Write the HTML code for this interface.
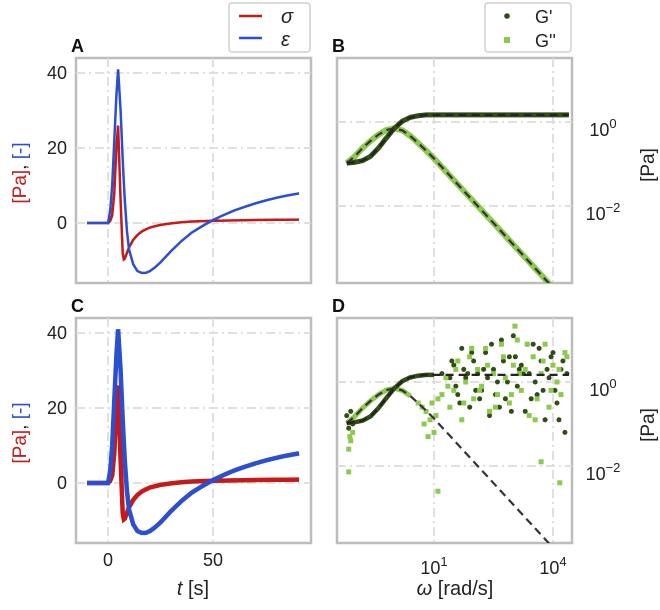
<!DOCTYPE html>
<html><head><meta charset="utf-8"><style>
body{margin:0;background:#fff}
svg{display:block;font-family:"Liberation Sans",sans-serif}
</style></head><body>
<svg id="fig" width="660" height="610" viewBox="0 0 660 610">
<defs>
<clipPath id="clipA"><rect x="76" y="58" width="235" height="225"/></clipPath>
<clipPath id="clipB"><rect x="337" y="58" width="235" height="225"/></clipPath>
<clipPath id="clipC"><rect x="76" y="318" width="235" height="225"/></clipPath>
<clipPath id="clipD"><rect x="337" y="318" width="235" height="225"/></clipPath>
</defs>
<g id="layer"></g>
</svg>
<script>
// ---- data: time panels ----
const tVals = [-10,-5,0,1,2,3,4,4.8,6,7,7.5,8,9,10,12,14,16,18,20,22,25,30,35,40,45,50,55,60,65,70,75,80,85,91];
const epsVals = [0,0,0,3,10,22,34,41,30,17,11,6,-2,-7,-11,-12.8,-13.3,-13.3,-12.8,-12,-10.5,-7.5,-4.8,-2.5,-0.8,0.8,2.1,3.3,4.3,5.2,6,6.7,7.3,7.9];
const sigVals = [0,0,0,0.5,2,8,20,26,6,-8,-9.7,-9.5,-8,-6.5,-4.5,-3.2,-2.3,-1.7,-1.2,-0.9,-0.5,-0.1,0.2,0.4,0.5,0.6,0.65,0.7,0.75,0.8,0.82,0.85,0.87,0.9];
const timeTicks = [0,50];
const timeTickLabels = ["0","50"];
const ampTicks = [0,20,40];
const ampTickLabels = ["0","20","40"];
// ---- data: frequency panels (log10 values) ----
const logW = [-1.2,-1.0,-0.8,-0.6,-0.4,-0.2,0,0.2,0.4,0.6,0.8,1.0,1.4,1.8,2.2,2.6,3.0,3.4,3.8,4.2,4.4];
const logGp = [-0.98,-0.96,-0.92,-0.82,-0.62,-0.38,-0.15,0.02,0.11,0.15,0.17,0.17,0.17,0.17,0.17,0.17,0.17,0.17,0.17,0.17,0.17];
const logGpp = [-0.98,-0.82,-0.62,-0.45,-0.3,-0.19,-0.15,-0.2,-0.33,-0.5,-0.68,-0.87,-1.28,-1.69,-2.1,-2.51,-2.92,-3.33,-3.74,-4.15,-4.35];
const freqTicks = [1,4];
const gTicks = [0,-2];
// noisy measured data in D
const dpW = [-1.2,-1.15,-1.1,-1.05,1.2,1.4,1.5,1.6,1.7,1.8,1.9,2.0,2.1,2.2,2.3,2.4,2.5,2.6,2.7,2.8,2.9,3.0,3.1,3.2,3.3,3.4,3.5,3.6,3.7,3.8,3.9,4.0,4.1,4.2,4.3,1.45,1.65,1.85,2.05,2.25,2.45,2.65,2.85,3.05,3.25,3.45,3.65,3.85,4.05,4.25,1.55,1.75,1.95,2.15,2.35,2.55,2.75,2.95,3.15,3.35,3.55,3.75,3.95,4.15,4.35];
const dpG = [-0.8,-1.1,-0.7,-1.0,0.2,0.1,0.4,-0.3,0.8,0.1,-0.6,0.5,0.2,-0.2,0.7,-0.8,0.3,0.0,1.0,-0.4,0.6,1.1,-0.1,0.4,-0.7,0.2,0.9,-0.3,0.5,-0.9,0.1,0.7,-0.5,0.3,-1.2,0.5,-0.5,0.2,-0.2,0.3,0.9,-0.6,0.0,0.6,0.2,-0.4,0.8,0.3,-0.2,0.5,-0.1,0.3,0.7,-0.4,0.1,-0.3,0.5,-0.7,0.3,0.9,0.0,-0.2,0.6,-0.9,0.2];
const lpW = [-1.15,-1.15,-1.1,-1.12,-1.05,0.6,0.7,0.8,0.9,1.0,1.1,0.75,0.85,0.95,1.05,1.2,1.3,1.4,1.5,1.6,1.7,1.8,1.9,2.0,2.1,2.2,2.3,2.4,2.5,2.6,2.7,2.8,2.9,3.0,3.1,3.2,3.3,3.4,3.5,3.6,3.7,3.8,3.9,4.0,4.1,4.2,4.3,1.35,1.55,1.75,1.95,2.15,2.35,2.55,2.75,2.95,3.15,3.35,3.55,3.75,3.95,4.15,4.35,1.1,3.04,4.17,3.7];
const lpG = [-1.6,-2.14,-1.4,-1.3,-1.2,-0.5,-0.6,-0.7,-0.9,-1.2,-0.4,-1.0,-1.3,-0.5,-0.8,-0.3,0.1,-0.6,-0.2,0.5,-0.9,0.0,0.6,-0.4,0.3,-0.1,0.8,-0.7,0.2,-0.3,0.9,0.1,-0.5,0.4,1.0,-0.2,0.3,-0.8,0.6,-0.4,0.2,0.9,-0.6,0.4,0.0,-0.3,0.7,-0.1,0.3,-0.5,0.8,-0.2,0.4,-0.6,0.6,-0.3,0.2,0.9,-0.9,0.5,-0.2,0.3,0.6,-2.6,1.33,-2.4,-1.9];

const NS="http://www.w3.org/2000/svg";
const layer=document.getElementById('layer');
function mk(tag,attrs,parent){const e=document.createElementNS(NS,tag);for(const k in attrs)e.setAttribute(k,attrs[k]);(parent||layer).appendChild(e);return e;}
const xT=t=>108+(t-0)*2.1;
const yA=(v,top)=>top+15+(40-v)*3.75;
const xW=l=>434+(l-1)*39.67;
const yG=(l,top)=>top+64-l*42;
const RED="#c41a1a",BLUE="#2b4fcf",DG="#2f4d14",LG="#8cc94f";
const GRID="#dcdcdc";

function panel(x,y,name,letter){
  const g=mk('g',{});
  
  
  const r=mk('rect',{x:x,y:y,width:235,height:225,fill:'none',stroke:'#bdbdbd','stroke-width':2.5},g);
  
  
  const t=mk('text',{x:x-5,y:y-6,'font-size':18,'font-weight':'bold',fill:'#111'},g);
  t.textContent=letter;
  
  
  return g;
}
function gridV(x,top,g){const l=mk('line',{x1:x,x2:x,y1:top,y2:top+225,stroke:GRID,'stroke-width':1.8,'stroke-dasharray':'9 4 2 4'},g);}
function gridH(y,left,g){const l=mk('line',{x1:left,x2:left+235,y1:y,y2:y,stroke:GRID,'stroke-width':1.8,'stroke-dasharray':'9 4 2 4'},g);}
function txt(x,y,s,attrs,g,name){const t=mk('text',Object.assign({x:x,y:y,'font-size':18,fill:'#222'},attrs||{}),g);t.textContent=s;return t;}
function pow10(x,y,e,g,name){const t=mk('text',{x:x,y:y,'font-size':18,fill:'#222','text-anchor':'middle'},g);const a=mk('tspan',{},t);a.textContent='10';const b=mk('tspan',{dy:-8,'font-size':13},t);b.textContent=String(e).replace('-','\u2212');return t;}
function path(xs,ys,fx,fy,attrs,g,name){let d='';for(let i=0;i<xs.length;i++)d+=(i?'L':'M')+fx(xs[i]).toFixed(1)+','+fy(ys[i]).toFixed(1);const p=mk('path',Object.assign({d:d,fill:'none'},attrs),g);return p;}

[[58,'panel-a','A',false],[318,'panel-c','C',true]].forEach(([top,name,letter,noisy])=>{
  const g=panel(76,top,name,letter);
  timeTicks.forEach(t=>gridV(xT(t),top,g));
  ampTicks.forEach(v=>gridH(yA(v,top),76,g));
  ampTicks.forEach((v,i)=>txt(67,yA(v,top)+6,ampTickLabels[i],{'text-anchor':'end'},g,'y-tick-label'));
  const c=mk('g',{'clip-path':'url(#clip'+letter+')'},g);
  const w=noisy?4.5:2.5;
  path(tVals,sigVals,xT,v=>yA(v,top),{stroke:RED,'stroke-width':w},c,'sigma-line');
  path(tVals,epsVals,xT,v=>yA(v,top),{stroke:BLUE,'stroke-width':w},c,'epsilon-line');
  const yl=mk('text',{transform:'translate(26,'+(top+115)+') rotate(-90)','text-anchor':'middle','font-size':19},g);
  
  
  const s1=mk('tspan',{fill:RED},yl);s1.textContent='[Pa]';
  const s2=mk('tspan',{fill:'#222'},yl);s2.textContent=', ';
  const s3=mk('tspan',{fill:BLUE},yl);s3.textContent='[-]';
});
timeTicks.forEach((t,i)=>txt(xT(t),566,timeTickLabels[i],{'text-anchor':'middle'},layer,'x-tick-label'));
const tl=mk('text',{x:193,y:595,'text-anchor':'middle','font-size':20,fill:'#222'});


const tli=mk('tspan',{'font-style':'italic'},tl);tli.textContent='t';
const tlr=mk('tspan',{},tl);tlr.textContent='  [s]';

[[58,'panel-b','B',false],[318,'panel-d','D',true]].forEach(([top,name,letter,noisy])=>{
  const g=panel(337,top,name,letter);
  freqTicks.forEach(l=>gridV(xW(l),top,g));
  gTicks.forEach(l=>gridH(yG(l,top),337,g));
  gTicks.forEach(l=>pow10(603,yG(l,top)+14,l,g,'y-tick-label'));
  const c=mk('g',{'clip-path':'url(#clip'+letter+')'},g);
  if(!noisy){
    path(logW,logGpp,xW,v=>yG(v,top),{stroke:LG,'stroke-width':6},c,'g-double-prime-data');
    path(logW,logGp,xW,v=>yG(v,top),{stroke:DG,'stroke-width':5},c,'g-prime-data');
  } else {
    const lw=logW.slice(0,9), lg=logGpp.slice(0,9), dg=logGp.slice(0,12), dw=logW.slice(0,12);
    path(lw,lg,xW,v=>yG(v,top),{stroke:LG,'stroke-width':5},c,'g-double-prime-data-line');
    path(dw,dg,xW,v=>yG(v,top),{stroke:DG,'stroke-width':4.5},c,'g-prime-data-line');
    dpW.forEach((w,i)=>{const p=mk('circle',{cx:xW(w),cy:yG(dpG[i],top),r:2.5,fill:DG},c);});
    lpW.forEach((w,i)=>{const p=mk('rect',{x:xW(w)-2.5,y:yG(lpG[i],top)-2.5,width:5,height:5,fill:LG},c);});
  }
  path(logW,logGpp,xW,v=>yG(v,top),{stroke:'#333','stroke-width':2.2,'stroke-dasharray':'8 5'},c,'g-double-prime-fit');
  path(logW,logGp,xW,v=>yG(v,top),{stroke:'#222','stroke-width':2.2,'stroke-dasharray':'8 5'},c,'g-prime-fit');
  txt(654,top+107,'[Pa]',{transform:'rotate(-90 654 '+(top+107)+')','text-anchor':'middle','font-size':19},g,'right-axis-title');
});
freqTicks.forEach(l=>pow10(xW(l),574,l,layer,'x-tick-label'));
const wl=mk('text',{x:455,y:595,'text-anchor':'middle','font-size':20,fill:'#222'});


const wli=mk('tspan',{'font-style':'italic'},wl);wli.textContent='\u03c9';
const wlr=mk('tspan',{},wl);wlr.textContent='  [rad/s]';

const la=mk('g',{});


mk('rect',{x:229,y:3,width:81,height:49,rx:3,fill:'#fff',stroke:'#cfcfcf','stroke-width':1.5},la);
mk('line',{x1:239,x2:262,y1:16,y2:16,stroke:RED,'stroke-width':2.5},la);
mk('line',{x1:239,x2:262,y1:38,y2:38,stroke:BLUE,'stroke-width':2.5},la);
txt(281,23,'\u03c3',{'font-style':'italic','font-size':20},la,'legend-entry-sigma');
txt(281,46,'\u03b5',{'font-style':'italic','font-size':20},la,'legend-entry-epsilon');
const lb=mk('g',{});


mk('rect',{x:485,y:3,width:86,height:49,rx:3,fill:'#fff',stroke:'#cfcfcf','stroke-width':1.5},lb);
mk('circle',{cx:507,cy:16,r:2.8,fill:DG},lb);
mk('rect',{x:504,y:37,width:6,height:6,fill:LG},lb);
txt(535,23,"G'",{'font-size':18},lb,'legend-entry-g-prime');
txt(535,47,"G''",{'font-size':18},lb,'legend-entry-g-double-prime');
</script>
</body></html>
